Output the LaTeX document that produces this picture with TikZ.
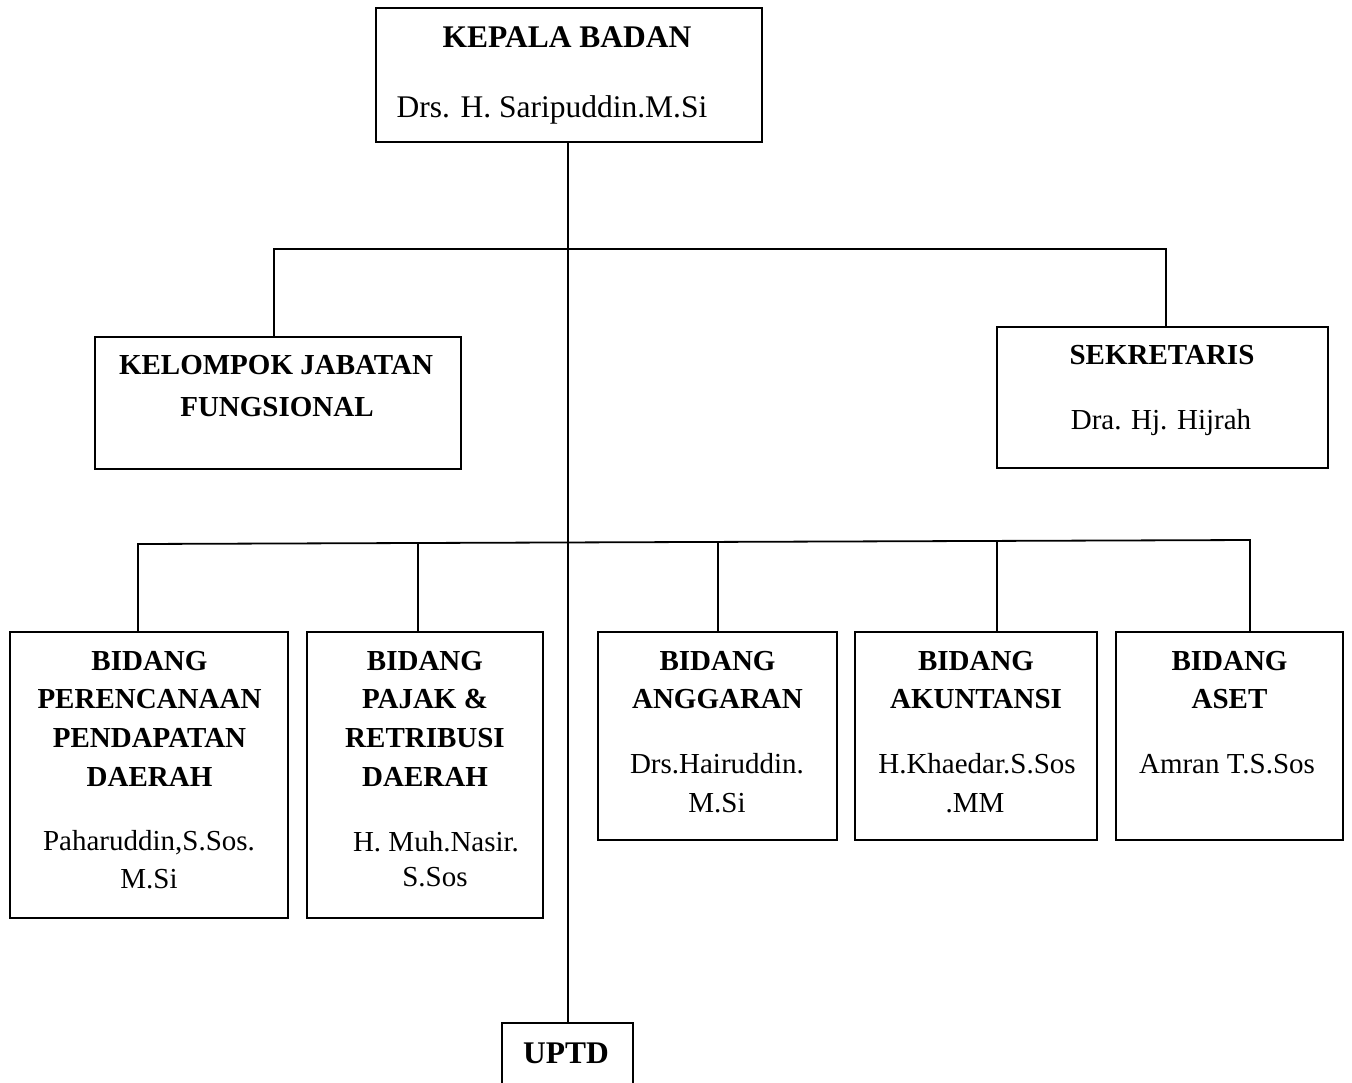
\documentclass[tikz,border=0pt]{standalone}
\usepackage{fontspec}
\setmainfont{Liberation Serif}
\begin{document}
\begin{tikzpicture}[x=1pt,y=-1pt]
\tikzset{
  box/.style={draw, rectangle, line width=1.8pt, inner sep=0pt},
  conn/.style={line width=1.8pt},
  tn/.style={anchor=base, inner sep=0pt, font=\fontsize{29}{33}\selectfont},
  tnb/.style={anchor=base, inner sep=0pt, font=\fontsize{29}{33}\selectfont\bfseries},
  tl/.style={anchor=base, inner sep=0pt, font=\fontsize{31.5}{36}\selectfont},
  tlb/.style={anchor=base, inner sep=0pt, font=\fontsize{31.5}{36}\selectfont\bfseries}
}
\clip (0,0) rectangle (1352,1082);
\fill[white] (0,0) rectangle (1352,1082);

% boxes
\node[box, minimum width=386pt, minimum height=134pt] (kb) at (569,75) {};
\node[box, minimum width=366pt, minimum height=132pt] (kjf) at (278,403) {};
\node[box, minimum width=331pt, minimum height=141pt] (sek) at (1162.5,397.5) {};
\node[box, minimum width=278pt, minimum height=286pt] (b1) at (149,775) {};
\node[box, minimum width=236pt, minimum height=286pt] (b2) at (425,775) {};
\node[box, minimum width=239pt, minimum height=208pt] (b3) at (717.5,736) {};
\node[box, minimum width=242pt, minimum height=208pt] (b4) at (976,736) {};
\node[box, minimum width=227pt, minimum height=208pt] (b5) at (1229.5,736) {};
\node[box, minimum width=131pt, minimum height=77pt] (uptd) at (567.5,1061.5) {};

% texts
\node[tlb] (kb1) at (567,47) {KEPALA BADAN};
\node[tl] (kb2) at (552,117) {Drs. H. Saripuddin.M.Si};

\node[tnb] (kjf1) at (276,374) {KELOMPOK JABATAN};
\node[tnb] (kjf2) at (277,416) {FUNGSIONAL};

\node[tnb] (sek1) at (1162,364) {SEKRETARIS};
\node[tn] (sek2) at (1161,429) {Dra. Hj. Hijrah};

\node[tnb] (b1a) at (149.5,670) {BIDANG};
\node[tnb] (b1b) at (149.5,708) {PERENCANAAN};
\node[tnb] (b1c) at (149.5,747) {PENDAPATAN};
\node[tnb] (b1d) at (149.5,786) {DAERAH};
\node[tn] (b1e) at (149,850) {Paharuddin,S.Sos.};
\node[tn] (b1f) at (149,888) {M.Si};

\node[tnb] (b2a) at (425,670) {BIDANG};
\node[tnb] (b2b) at (425,708) {PAJAK \&};
\node[tnb] (b2c) at (425,747) {RETRIBUSI};
\node[tnb] (b2d) at (425,786) {DAERAH};
\node[tn] (b2e) at (436,851) {H. Muh.Nasir.};
\node[tn] (b2f) at (435,886) {S.Sos};

\node[tnb] (b3a) at (717.5,670) {BIDANG};
\node[tnb] (b3b) at (717.5,708) {ANGGARAN};
\node[tn] (b3c) at (717,773) {Drs.Hairuddin.};
\node[tn] (b3d) at (717,812) {M.Si};

\node[tnb] (b4a) at (976,670) {BIDANG};
\node[tnb] (b4b) at (976,708) {AKUNTANSI};
\node[tn] (b4c) at (977,773) {H.Khaedar.S.Sos};
\node[tn] (b4d) at (975,812) {.MM};

\node[tnb] (b5a) at (1229.5,670) {BIDANG};
\node[tnb] (b5b) at (1229.5,708) {ASET};
\node[tn] (b5c) at (1227,773) {Amran T.S.Sos};

\node[tlb] (u1) at (566,1063) {UPTD};

% connector coordinates
\coordinate (spine) at (568,142);
\coordinate (ja) at (274,249);
\coordinate (jb) at (1166,249);
\coordinate (d1) at (138,544);
\coordinate (d2) at (418,543);
\coordinate (d3) at (718,541.9);
\coordinate (d4) at (997,540.9);
\coordinate (d5) at (1250,540);

% connectors
\draw[conn] (spine) -- (spine |- uptd.north);
\draw[conn] (kjf.north -| ja) -- (ja) -- (jb) -- (sek.north -| jb);
\draw[conn] (d1 |- b1.north) -- (d1) -- (d5) -- (d5 |- b5.north);
\draw[conn] (d2) -- (d2 |- b2.north);
\draw[conn] (d3) -- (d3 |- b3.north);
\draw[conn] (d4) -- (d4 |- b4.north);
\end{tikzpicture}
\end{document}
